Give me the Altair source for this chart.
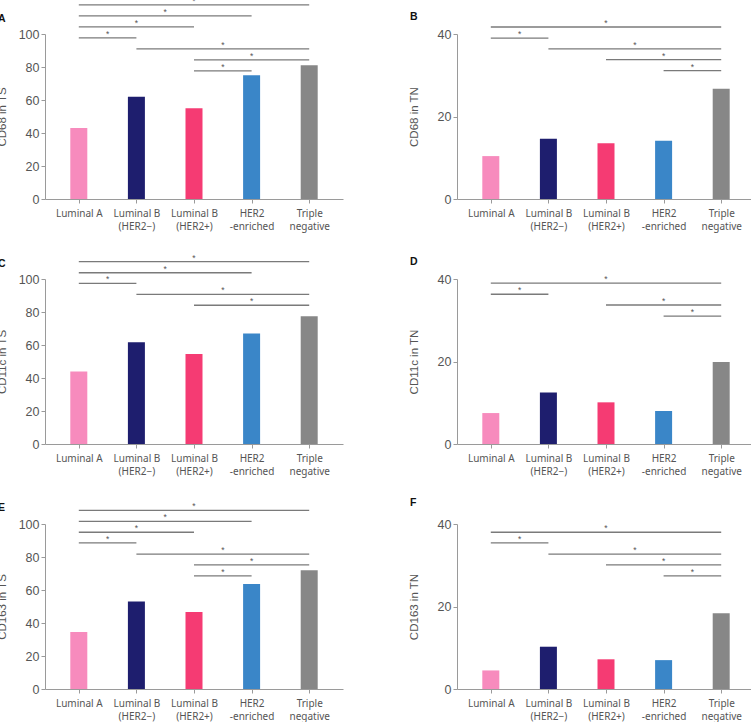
import altair as alt
import pandas as pd
import json

# ---------------- data ----------------
categories = ["Luminal A", "Luminal B\n(HER2\u2212)", "Luminal B\n(HER2+)", "HER2\n-enriched", "Triple\nnegative"]
bar_colors = ["#f78bbd", "#1e1e6e", "#f53b73", "#3a86c8", "#878787"]

panel_letters = ["A", "B", "C", "D", "E", "F"]
y_titles = ["CD68 in TS", "CD68 in TN", "CD11c in TS", "CD11c in TN", "CD163 in TS", "CD163 in TN"]
y_max = [100, 40, 100, 40, 100, 40]
y_ticks_TS = [0, 20, 40, 60, 80, 100]
y_ticks_TN = [0, 20, 40]

values_A = [43, 62, 55, 75, 81]
values_B = [10.4, 14.6, 13.5, 14.1, 26.7]
values_C = [44, 61.6, 54.5, 67, 77.4]
values_D = [7.5, 12.5, 10.1, 8.0, 19.9]
values_E = [34.5, 53.1, 46.7, 63.6, 71.9]
values_F = [4.5, 10.25, 7.2, 7.0, 18.35]

# significance brackets: (from category index, to category index, height in data units)
sig_A = [(0, 4, 117.6), (0, 3, 111.0), (0, 2, 104.3), (0, 1, 97.6), (1, 4, 91.0), (2, 4, 84.3), (2, 3, 77.6)]
sig_B = [(0, 4, 41.7), (0, 1, 39.0), (1, 4, 36.4), (2, 4, 33.8), (3, 4, 31.1)]
sig_C = [(0, 4, 110.5), (0, 3, 103.8), (0, 1, 97.4), (1, 4, 90.7), (2, 4, 84.1)]
sig_D = [(0, 4, 39.0), (0, 1, 36.3), (2, 4, 33.7), (3, 4, 31.0)]
sig_E = [(0, 4, 108.3), (0, 3, 101.6), (0, 2, 95.0), (0, 1, 88.5), (1, 4, 81.8), (2, 4, 75.2), (2, 3, 68.5)]
sig_F = [(0, 4, 38.0), (0, 1, 35.4), (1, 4, 32.7), (2, 4, 30.1), (3, 4, 27.4)]

all_values = [values_A, values_B, values_C, values_D, values_E, values_F]
all_sigs = [sig_A, sig_B, sig_C, sig_D, sig_E, sig_F]

# ---------------- style ----------------
PW, PH = 298, 165
TEXT = "#555555"
AXIS = "#9a9a9a"
TITLE_DY = [27.2, 3.4, 15.6, -6.0, 11.0, -9.5]   # vertical nudge of panel letters
label_lines = [c.split("\n") for c in categories]
label_expr = json.dumps(label_lines, ensure_ascii=False) + "[round(datum.value)]"


def panel(i):
    vals = all_values[i]
    sigs = all_sigs[i]
    ymax = y_max[i]
    ticks = y_ticks_TS if ymax == 100 else y_ticks_TN

    bars = pd.DataFrame({
        "idx": list(range(len(categories))),
        "value": vals,
        "color": bar_colors,
    })
    sig = pd.DataFrame({
        "x1": [s[0] for s in sigs],
        "x2": [s[1] for s in sigs],
        "level": [s[2] for s in sigs],
    })
    sig["mid"] = (sig["x1"] + sig["x2"]) / 2
    sig["star"] = "*"

    xscale = alt.Scale(domain=[-0.5, 4.5], nice=False, zero=False)
    yscale = alt.Scale(domain=[0, ymax], nice=False)

    xaxis = alt.Axis(values=list(range(len(categories))), labelExpr=label_expr, title=None,
                     grid=False, domainColor=AXIS, tickColor=AXIS, tickSize=4,
                     labelFont="Noto Sans", labelFontSize=10, labelColor=TEXT,
                     labelLineHeight=13, labelPadding=5, labelAngle=0, labelOverlap=False)
    yaxis = alt.Axis(values=ticks, tickCount=len(ticks), title=y_titles[i], grid=False,
                     domainColor=AXIS, tickColor=AXIS, tickSize=4, labelPadding=2,
                     labelOverlap=False, labelSeparation=0, labelBound=False,
                     labelFont="Liberation Sans", labelFontSize=12.5, labelColor=TEXT,
                     titleFont="Liberation Sans", titleFontSize=11.5, titleFontWeight="normal",
                     titleColor=TEXT, titleX=-40, titleBaseline="alphabetic")

    b = alt.Chart(bars).mark_bar(size=17).encode(
        x=alt.X("idx:Q", scale=xscale, axis=xaxis),
        y=alt.Y("value:Q", scale=yscale, axis=yaxis),
        color=alt.Color("color:N", scale=None, legend=None),
    )
    r = alt.Chart(sig).mark_rule(color="#7a7a7a", strokeWidth=1.3).encode(
        x=alt.X("x1:Q", scale=xscale, axis=xaxis),
        x2="x2:Q",
        y=alt.Y("level:Q", scale=yscale, axis=yaxis),
    )
    t = alt.Chart(sig).mark_text(fontSize=8.5, color="#555555", baseline="alphabetic", dy=-1,
                                 font="Liberation Sans").encode(
        x=alt.X("mid:Q", scale=xscale, axis=xaxis),
        y=alt.Y("level:Q", scale=yscale, axis=yaxis),
        text="star:N",
    )
    return alt.layer(b, r, t).properties(
        width=PW, height=PH,
        title=alt.TitleParams(panel_letters[i], anchor="start", frame="group", dx=-47, dy=TITLE_DY[i],
                              offset=0, fontSize=10.5, fontWeight="bold", font="Liberation Sans",
                              color="#111111"),
    )


chart = alt.concat(*[panel(i) for i in range(6)], columns=2,
                   spacing={"row": 80, "column": 114}, bounds="flush").properties(
    autosize=alt.AutoSizeParams(type="none"),
    padding={"left": 45, "top": 34, "right": 751 - 45, "bottom": 722 - 34},
).configure_view(stroke=None).configure_axis(labelOverlap=False)

chart.save("out.html", embed_options={"renderer": "svg", "actions": False})
